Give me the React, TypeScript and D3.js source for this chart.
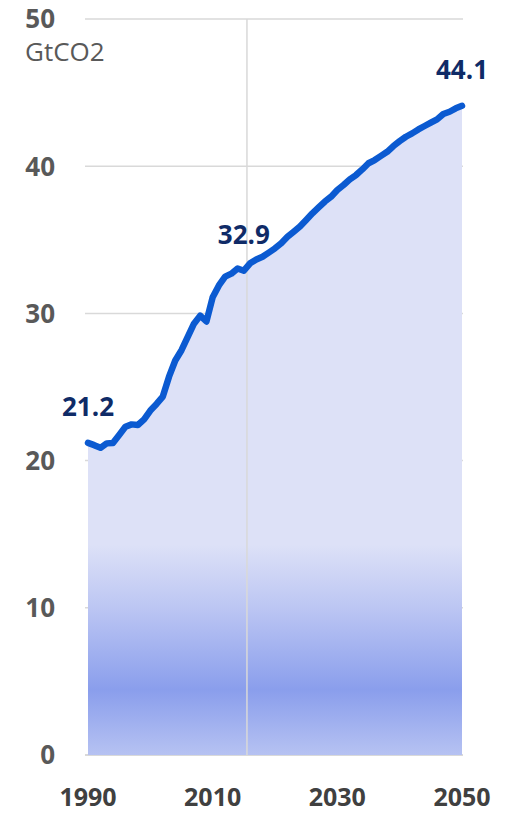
import React from "react";
import * as d3 from "d3";

// Energy-related CO2 emissions, GtCO2 (history to 2015, projection to 2050)
const years: number[] = d3.range(1990, 2051);
const emissions: number[] = [
  21.2, 21.05, 20.87, 21.17, 21.2, 21.74, 22.3, 22.46, 22.42, 22.8,
  23.4, 23.85, 24.35, 25.7, 26.8, 27.5, 28.4, 29.3, 29.85, 29.45,
  31.1, 31.9, 32.5, 32.7, 33.05, 32.9, 33.4, 33.66, 33.85, 34.13,
  34.42, 34.76, 35.2, 35.55, 35.9, 36.35, 36.8, 37.2, 37.6, 37.93,
  38.38, 38.72, 39.1, 39.4, 39.78, 40.2, 40.42, 40.7, 40.98, 41.37,
  41.7, 42.0, 42.23, 42.5, 42.73, 42.96, 43.18, 43.55, 43.7, 43.93,
  44.1,
];
const yTicks: number[] = [0, 10, 20, 30, 40, 50];
const xTicks: number[] = [1990, 2010, 2030, 2050];
const labelledYears: number[] = [1990, 2015, 2050];
const dividerYear = 2015.5;
const unitLabel = "GtCO2";

const W = 508;
const H = 813;
const FONT = "'Open Sans', 'Noto Sans', sans-serif";

export default function App() {
  const x = d3.scaleLinear().domain([1990, 2050]).range([88, 462]);
  const y = d3.scaleLinear().domain([0, 50]).range([755, 19]);

  const pts: [number, number][] = years.map((yr, i) => [yr, emissions[i]]);

  const area = d3
    .area<[number, number]>()
    .x((d) => x(d[0]))
    .y0(y(0))
    .y1((d) => y(d[1]));
  const line = d3
    .line<[number, number]>()
    .x((d) => x(d[0]))
    .y((d) => y(d[1]));

  const gTop = y(14.3);
  const gBot = y(0);

  return (
    <svg
      width={W}
      height={H}
      style={{ position: "absolute", left: 0, top: 0, background: "#fff" }}
    >
      <defs>
        <linearGradient
          id="areaFill"
          gradientUnits="userSpaceOnUse"
          x1={0}
          x2={0}
          y1={gTop}
          y2={gBot}
        >
          <stop offset="0" stopColor="#dde1f7" />
          <stop offset="0.3" stopColor="#bcc6f3" />
          <stop offset="0.69" stopColor="#8a9eec" />
          <stop offset="1" stopColor="#b6c2f2" />
        </linearGradient>
      </defs>

      {/* horizontal gridlines */}
      {yTicks.map((t) => (
        <line
          key={t}
          x1={85}
          x2={463}
          y1={y(t)}
          y2={y(t)}
          stroke="#d9d9d9"
          strokeWidth={t === 0 ? 2 : 1.5}
        />
      ))}

      <path d={area(pts) ?? ""} fill="url(#areaFill)" />

      {/* history / projection divider */}
      <line
        x1={x(dividerYear)}
        x2={x(dividerYear)}
        y1={y(50)}
        y2={y(0)}
        stroke="#d9d9d9"
        strokeWidth={1.5}
      />

      <path
        d={line(pts) ?? ""}
        fill="none"
        stroke="#0b5ad1"
        strokeWidth={6.5}
        strokeLinejoin="round"
        strokeLinecap="round"
      />

      {/* value labels */}
      {labelledYears.map((yr) => {
        const v = emissions[years.indexOf(yr)];
        return (
          <text
            key={yr}
            x={x(yr)}
            y={y(v) - 27}
            textAnchor="middle"
            fontFamily={FONT}
            fontWeight={700}
            fontSize={26}
            fill="#0f2b67"
          >
            {v.toFixed(1)}
          </text>
        );
      })}

      {/* y axis labels */}
      {yTicks.map((t) => (
        <text
          key={t}
          x={55}
          y={y(t)}
          dy="0.36em"
          textAnchor="end"
          fontFamily={FONT}
          fontWeight={700}
          fontSize={26}
          fill="#595959"
        >
          {t}
        </text>
      ))}
      <text x={25} y={61} fontFamily={FONT} fontSize={26} fill="#595959">
        {unitLabel}
      </text>

      {/* x axis labels */}
      {xTicks.map((t) => (
        <text
          key={t}
          x={x(t)}
          y={806}
          textAnchor="middle"
          fontFamily={FONT}
          fontWeight={700}
          fontSize={25}
          fill="#404040"
        >
          {t}
        </text>
      ))}
    </svg>
  );
}
